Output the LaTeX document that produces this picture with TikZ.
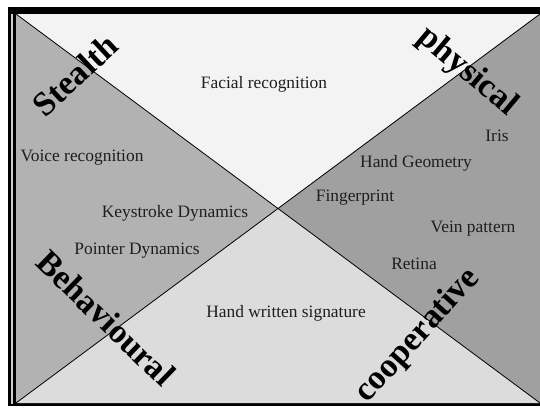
\documentclass[tikz,border=0pt]{standalone}
\usepackage{fontspec}
\setmainfont{Liberation Serif}
\definecolor{leftc}{HTML}{B2B2B2}
\definecolor{topc}{HTML}{F3F3F3}
\definecolor{rightc}{HTML}{A0A0A0}
\definecolor{botc}{HTML}{DCDCDC}
\definecolor{txt}{HTML}{1E1E1E}
\tikzset{
  item/.style={text=txt, inner sep=0pt, font=\fontsize{17.4}{20}\selectfont},
  big/.style={text=black, inner sep=0pt, font=\fontsize{34}{40}\selectfont\bfseries},
}
\begin{document}
\begin{tikzpicture}[x=1pt,y=-1pt]
\useasboundingbox (0,0) rectangle (540,407);
\fill[white] (0,0) rectangle (540,407);
% frame
\fill[black] (8,7) rectangle (540,406);
\fill[gray!40] (10.5,14) rectangle (12.5,403.5);
\coordinate (tl) at (16,14);
\coordinate (tr) at (540,14);
\coordinate (bl) at (16,403);
\coordinate (br) at (540,403);
\coordinate (c) at (278,208.5);
\fill[leftc] (tl) -- (c) -- (bl) -- cycle;
\fill[topc] (tl) -- (c) -- (tr) -- cycle;
\fill[rightc] (tr) -- (c) -- (br) -- cycle;
\fill[botc] (bl) -- (c) -- (br) -- cycle;
\draw[black, line width=0.8pt] (tl) -- (br);
\draw[black, line width=0.8pt] (bl) -- (tr);
% items
\node[item] (face) at (264,84) {Facial recognition};
\node[item] (voice) at (82,158) {Voice recognition};
\node[item] (key) at (175,213) {Keystroke Dynamics};
\node[item] (ptr) at (137,251) {Pointer Dynamics};
\node[item] (iris) at (497,136) {Iris};
\node[item] (hand) at (416,163) {Hand Geometry};
\node[item] (finger) at (355,198) {Fingerprint};
\node[item] (vein) at (473,229) {Vein pattern};
\node[item] (retina) at (414,264) {Retina};
\node[item] (sig) at (286,313) {Hand written signature};
% big labels
\node[big, rotate=43] (stealth) at (75,75) {Stealth};
\node[big, rotate=-40] (phys) at (467,72) {physical};
\node[big, rotate=-44] (behav) at (106,318) {Behavioural};
\node[big, rotate=48] (coop) at (418,336) {cooperative};
\end{tikzpicture}
\end{document}
